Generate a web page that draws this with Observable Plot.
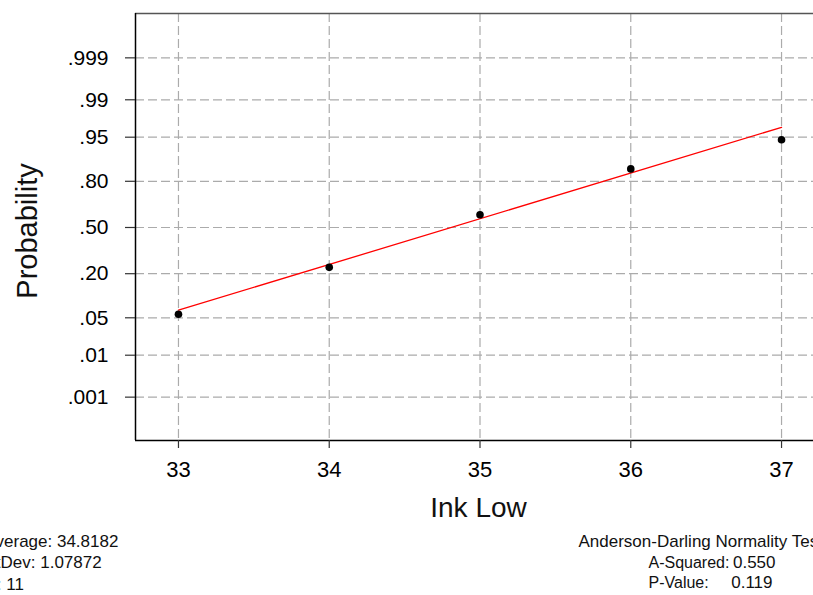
<!DOCTYPE html>
<html>
<head>
<meta charset="utf-8">
<script src="https://cdn.jsdelivr.net/npm/d3@7"></script>
<script src="https://cdn.jsdelivr.net/npm/@observablehq/plot@0.6"></script>
<style>
  html, body { margin: 0; padding: 0; background: #fff; overflow: hidden; }
</style>
</head>
<body>
<div id="chart"></div>
<script>
// Normal probability plot of "Ink Low"
const inkLow = [33, 34, 35, 36, 37];
const probability = [0.057, 0.234, 0.592, 0.857, 0.945];

// fitted reference line (endpoints)
const fitX = [33, 37];
const fitP = [0.066, 0.966];

const xTicks = [33, 34, 35, 36, 37];
const yTickValues = [0.001, 0.01, 0.05, 0.2, 0.5, 0.8, 0.95, 0.99, 0.999];
const yTickLabels = [".001", ".01", ".05", ".20", ".50", ".80", ".95", ".99", ".999"];

const statLines = ["Average: 34.8182", "StDev: 1.07872", "N: 11"];
const testTitle = "Anderson-Darling Normality Test";
const testLabels = ["A-Squared:", "P-Value:"];
const testValues = ["0.550", "0.119"];

// inverse standard normal CDF (Acklam), used for the probability axis
function probit(p) {
  const a = [-3.969683028665376e+01, 2.209460984245205e+02, -2.759285104469687e+02, 1.383577518672690e+02, -3.066479806614716e+01, 2.506628277459239e+00];
  const b = [-5.447609879822406e+01, 1.615858368580409e+02, -1.556989798598866e+02, 6.680131188771972e+01, -1.328068155288572e+01];
  const c = [-7.784894002430293e-03, -3.223964580411365e-01, -2.400758277161838e+00, -2.549732539343734e+00, 4.374664141464968e+00, 2.938163982698783e+00];
  const d = [7.784695709041462e-03, 3.224671290700398e-01, 2.445134137142996e+00, 3.754408661907416e+00];
  const pl = 0.02425, ph = 1 - pl;
  let q, r;
  if (p < pl) {
    q = Math.sqrt(-2 * Math.log(p));
    return (((((c[0]*q+c[1])*q+c[2])*q+c[3])*q+c[4])*q+c[5]) / ((((d[0]*q+d[1])*q+d[2])*q+d[3])*q+1);
  }
  if (p > ph) {
    q = Math.sqrt(-2 * Math.log(1 - p));
    return -(((((c[0]*q+c[1])*q+c[2])*q+c[3])*q+c[4])*q+c[5]) / ((((d[0]*q+d[1])*q+d[2])*q+d[3])*q+1);
  }
  q = p - 0.5; r = q * q;
  return (((((a[0]*r+a[1])*r+a[2])*r+a[3])*r+a[4])*r+a[5])*q / (((((b[0]*r+b[1])*r+b[2])*r+b[3])*r+b[4])*r+1);
}

const points = inkLow.map((x, i) => ({x, z: probit(probability[i])}));
const fit = fitX.map((x, i) => ({x, z: probit(fitP[i])}));
const yTicksZ = yTickValues.map(probit);
const labelByZ = new Map(yTicksZ.map((z, i) => [z, yTickLabels[i]]));

const xDomain = [32.715, 37.212];
const yDomain = [-3.88, 3.898];

const font = "'Liberation Sans', Arial, Helvetica, sans-serif";
const grid = {stroke: "#ababab", strokeOpacity: 1, strokeWidth: 1.2, strokeDasharray: "9,4"};
const statText = {frameAnchor: "bottom-left", textAnchor: "start", lineAnchor: "bottom", fontSize: 17, fill: "#111"};

const statMarks = statLines.map((t, i) =>
  Plot.text([t], {...statText, dx: -151, dy: 106.5 + 21.3 * i}));

const testMarks = [
  Plot.text([testTitle], {...statText, dx: 443, dy: 106}),
  ...testLabels.map((t, i) => Plot.text([t], {...statText, fontSize: 16, dx: 513, dy: 127 + 20.8 * i})),
  ...testValues.map((t, i) => Plot.text([t], {...statText, textAnchor: "end", dx: 640 - 3 * i, dy: 127 + 20.8 * i}))
];

const chart = Plot.plot({
  width: 813,
  height: 595,
  marginTop: 13,
  marginLeft: 135,
  marginRight: 0,
  marginBottom: 155,
  style: {fontFamily: font, background: "#fff", color: "#000", overflow: "hidden"},
  x: {domain: xDomain},
  y: {domain: yDomain},
  marks: [
    Plot.gridX(xTicks, grid),
    Plot.gridY(yTicksZ, grid),
    Plot.ruleY([yDomain[1]], {stroke: "#555", strokeWidth: 1.6}),
    Plot.ruleY([yDomain[0]], {stroke: "#000", strokeWidth: 1.5}),
    Plot.ruleX([xDomain[0]], {stroke: "#000", strokeWidth: 1.5}),
    Plot.axisX(xTicks, {tickSize: 8, tickPadding: 13, fontSize: 22, label: null, stroke: "#333", strokeWidth: 1.2,
      tickFormat: d => String(d)}),
    Plot.axisY(yTicksZ, {tickSize: 10, tickPadding: 17, fontSize: 21, label: null, stroke: "#333", strokeWidth: 1.2,
      tickFormat: z => labelByZ.get(z)}),
    Plot.line(fit, {x: "x", y: "z", stroke: "#ff0000", strokeWidth: 1.3}),
    Plot.dot(points, {x: "x", y: "z", r: 3.8, fill: "#000", stroke: "none"}),
    Plot.text(["Ink Low"], {x: () => 34.99, frameAnchor: "bottom", dy: 76.7, textAnchor: "middle", lineAnchor: "bottom", fontSize: 28, fill: "#111"}),
    Plot.text(["Probability"], {y: () => -0.064, frameAnchor: "left", dx: -99, rotate: -90, textAnchor: "middle", lineAnchor: "bottom", fontSize: 29, fill: "#111"}),
    ...statMarks,
    ...testMarks
  ]
});

document.getElementById("chart").append(chart);
</script>
</body>
</html>
